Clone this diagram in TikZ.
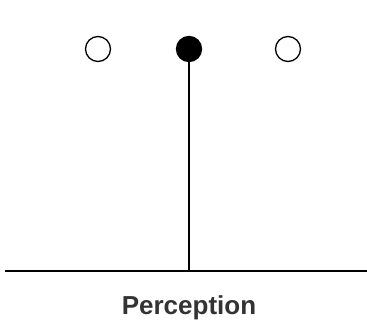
\documentclass[tikz,border=0pt]{standalone}
\usepackage{fontspec}
\setmainfont{Liberation Sans}
\begin{document}
\begin{tikzpicture}[x=1pt,y=-1pt,
  dot/.style={circle,draw=black,line width=1.3pt,minimum size=25pt,inner sep=0pt},
  fdot/.style={dot,fill=black}]
\useasboundingbox (0,0) rectangle (367,326);
\node[dot] (l) at (98,49) {};
\node[fdot] (m) at (189,49) {};
\node[dot] (r) at (288,49) {};
\coordinate (a) at (5,271);
\coordinate (b) at (367,271);
\coordinate (f) at (189,271);
\draw[line width=2pt] (a) -- (b);
\draw[line width=1.1pt] (m) -- (f);
\node[font=\bfseries\fontsize{26}{30}\selectfont,text=black!80] (t) at (189,308) {Perception};
\end{tikzpicture}
\end{document}
